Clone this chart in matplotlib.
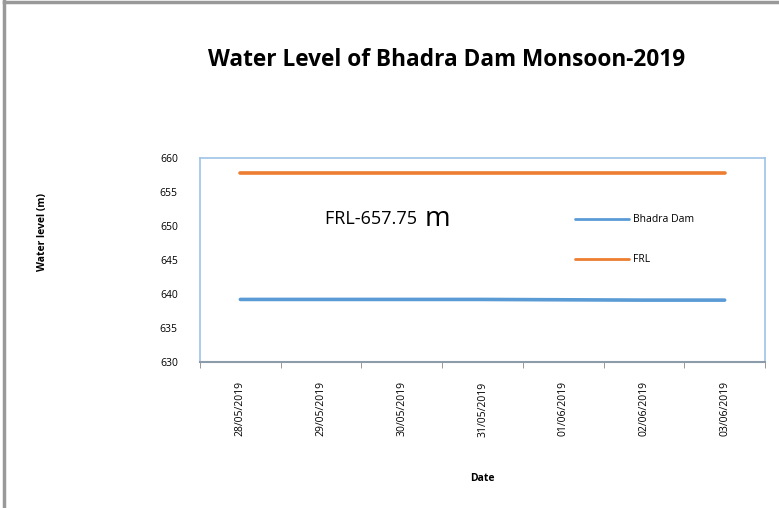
import matplotlib
matplotlib.use("Agg")
import matplotlib.pyplot as plt
from matplotlib.lines import Line2D

fechas = ["28/05/2019", "29/05/2019", "30/05/2019", "31/05/2019",
          "01/06/2019", "02/06/2019", "03/06/2019"]
bhadra = [639.2, 639.2, 639.2, 639.2, 639.15, 639.1, 639.1]
frl = [657.75, 657.75, 657.75, 657.75, 657.75, 657.75, 657.75]

azul = "#5B9BD5"
naranja = "#ED7D31"

plt.rcParams["font.family"] = ["Open Sans", "DejaVu Sans"]

fig = plt.figure(figsize=(7.79, 5.08), dpi=100)
ax = fig.add_axes([200 / 779, 1 - 362 / 508, 565 / 779, 204 / 508])

x = list(range(len(fechas)))
ax.plot(x, bhadra, color=azul, lw=2.6, label="Bhadra Dam", solid_capstyle="round")
ax.plot(x, frl, color=naranja, lw=2.6, label="FRL", solid_capstyle="round")

ax.set_xlim(-0.5, len(fechas) - 0.5)
ax.set_ylim(630, 660)
ax.set_yticks(range(630, 661, 5))
ax.set_xticks(x)
ax.set_xticklabels(fechas, rotation=90, fontsize=7.5)
ax.set_xticks([i - 0.5 for i in range(len(fechas) + 1)], minor=True)
ax.tick_params(axis="x", which="major", length=0, pad=14)
ax.tick_params(axis="x", which="minor", length=4, color="#888888", direction="out")
ax.tick_params(axis="y", length=0, labelsize=7.5, pad=16)

for lado in ["top", "right", "left"]:
    ax.spines[lado].set_color("#9DC3E6")
    ax.spines[lado].set_linewidth(1.2)
ax.spines["bottom"].set_color("#8C9BAA")
ax.spines["bottom"].set_linewidth(1.5)

ax.set_xlabel("Date", fontsize=7.5, fontweight="bold", labelpad=26)
fig.text(42 / 779, 1 - 232 / 508, "Water level (m)", rotation=90, fontsize=7.5,
         fontweight="bold", ha="center", va="center")

fig.text(447 / 779, 1 - 60 / 508, "Water Level of Bhadra Dam Monsoon-2019",
         fontsize=16.3, fontweight="bold", ha="center", va="center")

# anotacion FRL, la "m" va mas grande como en el original
t = ax.text(1.05, 651.0, "FRL-657.75 ", fontsize=13, va="center", ha="left")
fig.canvas.draw()
bb = t.get_window_extent().transformed(ax.transData.inverted())
ax.text(bb.x1 + 0.04, 651.1, "m", fontsize=20, va="center", ha="left")

ax.legend(loc="upper left", bbox_to_anchor=(0.648, 0.77), frameon=False,
          fontsize=7.5, handlelength=5.1, labelspacing=2.8, handletextpad=0.45)
for h in ax.get_legend().get_lines():
    h.set_linewidth(2.0)

# marco exterior del grafico (solo arriba e izquierda)
fig.add_artist(Line2D([4 / 779, 4 / 779], [0, 1 - 1 / 508], color="#999999", lw=2.5))
fig.add_artist(Line2D([4 / 779, 1], [1 - 2 / 508, 1 - 2 / 508], color="#999999", lw=2.5))

fig.savefig("out.png", dpi=100)
